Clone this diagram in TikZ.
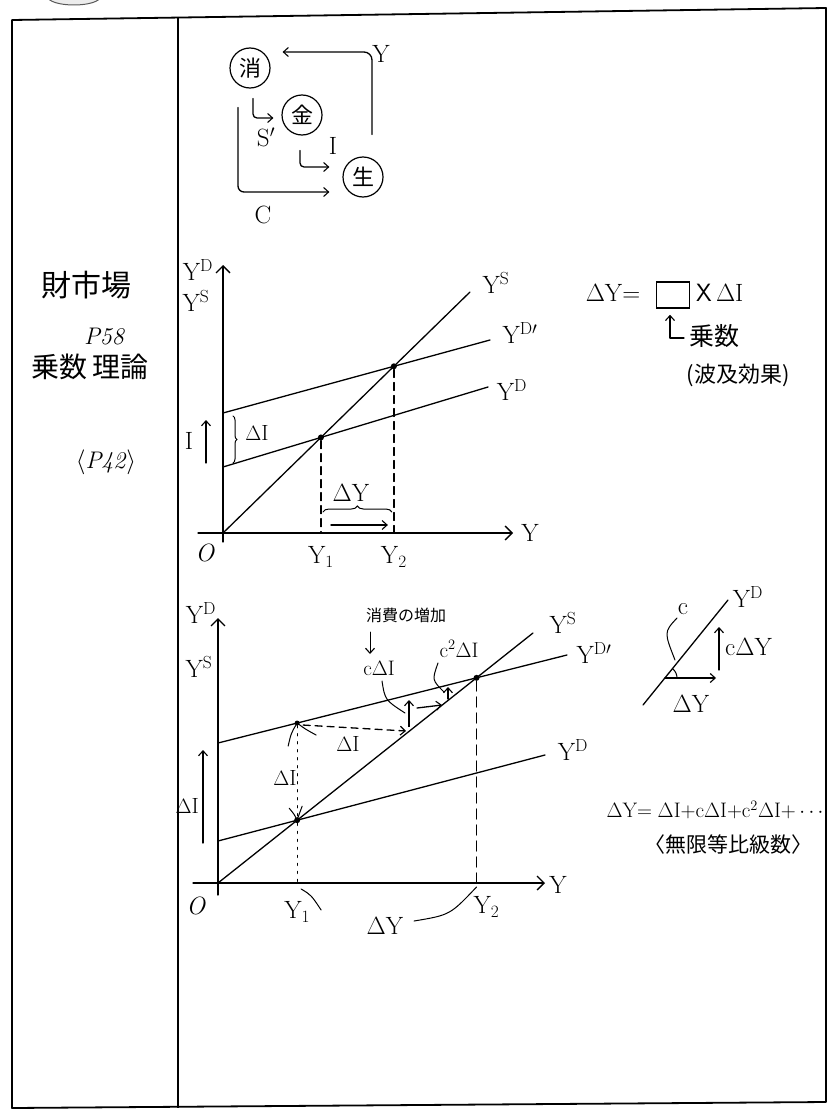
\documentclass[tikz,border=0pt]{standalone}
\usepackage{fontspec}
\newfontfamily\jp{Noto Sans CJK JP}
\usetikzlibrary{arrows.meta,decorations.pathreplacing,calc,intersections}
\begin{document}
\begin{tikzpicture}[x=1pt,y=-1pt,
  ink/.style={line width=1.3pt, line cap=round, line join=round},
  thinink/.style={line width=1pt, line cap=round},
  ax/.style={ink, -{Straight Barb[length=7pt,width=14pt,line width=1.3pt]}},
  tip/.style={-{Straight Barb[length=5pt,width=9pt,line width=1.1pt]}},
  lbl/.style={font=\fontsize{25}{27}\selectfont, inner sep=0pt},
  slbl/.style={font=\fontsize{21}{23}\selectfont, inner sep=0pt},
  jlbl/.style={font=\jp\fontsize{24}{26}\selectfont, inner sep=0pt},
  circ/.style={circle, draw, line width=1.2pt, minimum size=40pt, inner sep=0pt, font=\jp\fontsize{22}{24}\selectfont},
  dot/.style={fill, circle, inner sep=0pt, minimum size=6pt}
]
\useasboundingbox (0,0) rectangle (837,1116);
\fill[white] (0,0) rectangle (837,1116);

% top-left partial ellipse
\draw[line width=1pt, gray!70!black, fill=gray!15] (74,-3) ellipse [x radius=26, y radius=8];

% frame
\draw[line width=1.8pt, line join=round] (12,20) -- (826,8) -- (826,1102) -- (12,1108) -- cycle;
\draw[line width=1.8pt] (178,17) -- (178,1108);

% ---------- flow diagram ----------
\node[circ] (xiao) at (250,68) {消};
\node[circ] (jin) at (302,115) {金};
\node[circ] (sheng) at (363,177) {生};
\draw[ink, tip, rounded corners=8pt] ($(sheng.north)+(9,-22)$) |- ($(xiao.east)+(12,-16)$);
\node[lbl] (ly) at (381,54) {Y};
\draw[ink, tip, rounded corners=4pt] ($(xiao.south)+(3,10)$) |- ($(jin.west)+(-8,3)$);
\node[lbl] (ls) at (266,137) {S$'$};
\draw[ink, tip, rounded corners=4pt] ($(jin.south)+(-2,15)$) |- ($(sheng.west)+(-13,-10)$);
\node[lbl] (li) at (333,146) {I};
\draw[ink, tip, rounded corners=6pt] ($(xiao.south)+(-12,19)$) |- ($(sheng.west)+(-13,15)$);
\node[lbl] (lc) at (263,215) {C};

% ---------- left column ----------
\node[jlbl, font=\jp\fontsize{30}{32}\selectfont] (t1) at (86,285) {財市場};
\node[lbl, font=\itshape\fontsize{24}{26}\selectfont] (t2) at (104,337) {P58};
\node[jlbl, font=\jp\fontsize{28}{30}\selectfont] (t3) at (90,367) {乗数\,理論};
\node[lbl, font=\fontsize{24}{26}\selectfont] (t4) at (106,462) {$\langle$\textit{P42}$\rangle$};

% ---------- graph 1 ----------
\coordinate (O1) at (223,533);
\draw[ax] (198,533) -- (513,533);
\draw[ax] (223,542) -- (223,265);
\node[lbl] (gx1) at (530,533) {Y};
\node[lbl] (go1) at (205,553) {\textit{O}};
\node[lbl] (gyd1) at (198,270) {Y$^{\mathrm{D}}$};
\node[lbl] (gys1) at (196,301) {Y$^{\mathrm{S}}$};
\draw[ink, name path=ys1] (O1) -- (470,292);
\draw[ink, name path=ydp1] (223,413) -- (490,340);
\draw[ink, name path=yd1] (223,467) -- (488,387);
\node[lbl] (lys1) at (496,283) {Y$^{\mathrm{S}}$};
\node[lbl] (lydp1) at (520,333) {Y$^{\mathrm{D}\prime}$};
\node[lbl] (lyd1) at (512,390) {Y$^{\mathrm{D}}$};
\path[name intersections={of=ys1 and yd1, by=A1}];
\path[name intersections={of=ys1 and ydp1, by=A2}];
\node[dot] (a1) at (A1) {};
\node[dot] (a2) at (A2) {};
\draw[ink, dashed, dash pattern=on 8pt off 5pt] (a1) -- (A1 |- O1);
\draw[ink, dashed, dash pattern=on 8pt off 5pt] (a2) -- (A2 |- O1);
\node[lbl] (y11) at (A1 |- 0,557) {Y$_1$};
\node[lbl] (y21) at (A2 |- 0,557) {Y$_2$};
\draw[thinink, decorate, decoration={brace, amplitude=4pt}] (233,416) -- (233,463);
\node[lbl, font=\fontsize{22}{24}\selectfont] (di1) at (257,433) {$\Delta$I};
\draw[ink, tip] (206,463) -- (206,420);
\node[lbl] (i1) at (189,441) {I};
\draw[thinink, decorate, decoration={brace, amplitude=6pt}] ($(A1|-0,512)+(2,0)$) -- ($(A2|-0,512)+(-2,0)$);
\node[lbl] (dy1) at (351,493) {$\Delta$Y};
\draw[ink, tip] ($(A1|-0,525)+(10,0)$) -- ($(A2|-0,525)+(-6,0)$);

% ---------- multiplier formula ----------
\node[lbl] (fdy) at (613,293) {$\Delta$Y$=$};
\node[draw, line width=1.5pt, minimum width=33pt, minimum height=26pt, inner sep=0pt] (box) at (673,295) {};
\node[lbl, anchor=west] (fxi) at (696,293) {\textsf{X}\,$\Delta$I};
\draw[ink, tip] (684,338) -| ($(box.south)+(-3,6)$);
\node[jlbl, font=\jp\fontsize{25}{27}\selectfont] (mul) at (714,336) {乗数};
\node[jlbl, font=\jp\fontsize{22}{24}\selectfont] (hakyu) at (738,375) {(波及効果)};

% ---------- graph 2 ----------
\coordinate (O2) at (218,883);
\draw[ax] (193,883) -- (545,883);
\draw[ax] (218,895) -- (218,618);
\node[lbl] (gx2) at (558,885) {Y};
\node[lbl] (go2) at (196,906) {\textit{O}};
\node[lbl] (gyd2) at (201,613) {Y$^{\mathrm{D}}$};
\node[lbl] (gys2) at (199,667) {Y$^{\mathrm{S}}$};
\draw[ink, name path=ys2] (O2) -- (533,633);
\draw[ink, name path=ydp2] (218,743) -- (567,655);
\draw[ink, name path=yd2] (218,841) -- (545,755);
\node[lbl] (lys2) at (563,623) {Y$^{\mathrm{S}}$};
\node[lbl] (lydp2) at (594,653) {Y$^{\mathrm{D}\prime}$};
\node[lbl] (lyd2) at (573,750) {Y$^{\mathrm{D}}$};
\path[name intersections={of=ys2 and yd2, by=E1}];
\path[name intersections={of=ys2 and ydp2, by=E2}];
\path[name path=v1] (E1) -- ++(0,-200);
\path[name intersections={of=v1 and ydp2, by=P1}];
\node[dot] (e1) at (E1) {};
\node[dot] (e2) at (E2) {};
\node[dot, minimum size=5pt] (p1) at (P1) {};
\draw[ink, dash pattern=on 2pt off 6pt] (p1) -- (e1);
\draw[ink, dash pattern=on 2pt off 6pt] (e1) -- (E1 |- O2);
\draw[ink, dash pattern=on 10pt off 6pt] (e2) -- (E2 |- O2);
% staircase
\draw[ink, dashed, dash pattern=on 7pt off 5pt, tip] ($(P1)+(6,2)$) -- (406,731);
\draw[line width=2pt, tip] (409,727) -- (409,700);
\draw[ink, tip] (417,708) -- (442,705);
\draw[ink, tip] (448,699) -- (448,687);
% labels graph 2
\node[jlbl, font=\jp\fontsize{16}{18}\selectfont] (shohi) at (406,615) {消費の増加};
\draw[thinink, tip] (370,632) -- (370,654);
\node[slbl] (cdi) at (379,668) {c$\Delta$I};
\draw[thinink] (382,681) .. controls (385,700) .. (405,713);
\node[slbl] (c2di) at (459,649) {c$^{2}\Delta$I};
\draw[thinink] (438,663) .. controls (432,680) .. (444,692);
\node[lbl, font=\fontsize{22}{24}\selectfont] (dia) at (348,744) {$\Delta$I};
\draw[thinink] ($(P1)+(-9,23)$) .. controls ($(P1)+(-6,10)$) .. (P1);
\draw[thinink] (P1) .. controls ($(P1)+(8,6)$) .. ($(P1)+(19,12)$);
\node[lbl, font=\fontsize{22}{24}\selectfont] (dib) at (285,778) {$\Delta$I};
\draw[thinink] ($(E1)+(-8,-12)$) .. controls ($(E1)+(-3,-6)$) .. (E1);
\draw[thinink] ($(E1)+(5,-14)$) .. controls ($(E1)+(2,-6)$) .. (E1);
\draw[ink, tip] (203,843) -- (203,750);
\node[lbl, anchor=east, font=\fontsize{22}{24}\selectfont] (dic) at (199,806) {$\Delta$I};
\node[lbl] (y12) at ($(E1|-0,912)+(0,0)$) {Y$_1$};
\node[lbl] (y22) at ($(E2|-0,907)+(10,0)$) {Y$_2$};
\node[lbl] (dy2) at (385,926) {$\Delta$Y};
\draw[thinink] ($(E1|-O2)+(4,6)$) .. controls ($(E1|-O2)+(14,12)$) .. ($(E1|-O2)+(24,27)$);
\draw[thinink] (414,921) .. controls (450,915) .. ($(E2|-O2)+(0,4)$);

% ---------- slope sketch ----------
\coordinate (sA) at (643,705);
\coordinate (sB) at (728,600);
\draw[ink] (sA) -- (sB);
\node[lbl] (syd) at (748,597) {Y$^{\mathrm{D}}$};
\coordinate (V) at (665,678);
\draw[ink, tip] (V) -- (716,678);
\draw[ink, tip] (719,670) -- (719,627);
\node[lbl, anchor=west] (cdy) at (725,647) {c$\Delta$Y};
\node[lbl] (sdy) at (691,704) {$\Delta$Y};
\draw[thinink] ($(V)+(12,0)$) arc[start angle=0, end angle=-51, radius=12];
\node[lbl] (sc) at (683,609) {c};
\draw[thinink] (677,618) .. controls (664,632) .. (675,660);

% ---------- series formula ----------
\node[lbl, font=\fontsize{21}{23}\selectfont] (ser) at (715,810) {$\Delta$Y$=\Delta$I$+$c$\Delta$I$+$c$^2\Delta$I$+\cdots$};
\node[jlbl, font=\jp\fontsize{21}{23}\selectfont] (mugen) at (728,845) {〈無限等比級数〉};
\end{tikzpicture}
\end{document}
